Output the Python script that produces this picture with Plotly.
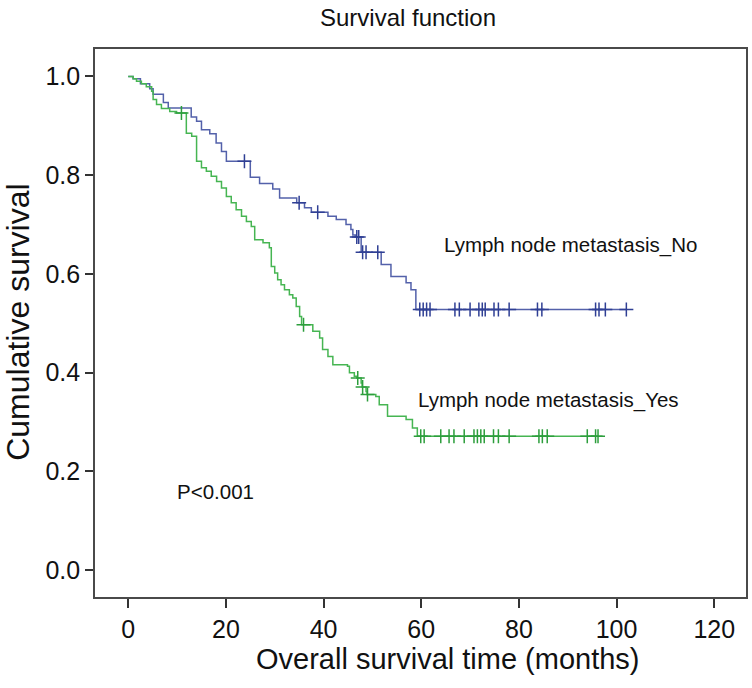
import plotly.graph_objects as go

# ---- data ----
no_event_t = [1.0, 2.5, 4.4, 5.1, 7.2, 8.2, 12.9, 14.0, 15.0, 16.7, 18.0, 19.1, 20.1,
              25.0, 26.9, 29.6, 31.0, 34.5, 36.1, 37.5, 40.9, 42.6, 44.6, 45.6, 46.0, 46.5,
              47.7, 51.8, 53.8, 56.9, 57.9, 58.9]
no_event_s = [0.995, 0.985, 0.975, 0.964, 0.947, 0.936, 0.918, 0.909, 0.892, 0.884, 0.865, 0.848, 0.828,
              0.796, 0.783, 0.772, 0.754, 0.744, 0.734, 0.725, 0.717, 0.710, 0.700, 0.690, 0.679, 0.675,
              0.644, 0.619, 0.595, 0.582, 0.568, 0.528]
no_censor_t = [23.8, 35.0, 38.8, 46.8, 47.2, 48.0, 48.7, 51.1, 59.7, 60.4, 61.1, 61.8, 66.9, 67.8,
               70.0, 71.8, 72.5, 73.1, 74.9, 75.8, 78.0, 83.8, 84.7, 95.7, 96.4, 97.7, 102.0]

yes_event_t = [1.0, 1.7, 2.7, 3.7, 4.8, 5.1, 5.8, 6.8, 8.5, 9.9, 11.9, 13.0, 14.0,
               15.0, 16.0, 17.0, 18.1, 19.1, 20.1, 21.1, 22.1, 23.2, 24.2, 25.2, 25.9, 27.6, 28.9,
               29.3, 30.0, 30.6, 31.3, 32.0, 33.0, 33.7, 34.4, 35.1, 35.5, 37.8, 39.2, 39.8, 40.9,
               41.9, 44.9, 45.3, 46.3, 46.8, 47.7, 47.9, 48.7, 48.9, 50.7, 51.4, 53.1, 56.9, 58.2, 59.2]
yes_event_s = [0.995, 0.990, 0.985, 0.979, 0.970, 0.953, 0.943, 0.935, 0.929, 0.926, 0.885, 0.879, 0.828,
               0.815, 0.808, 0.798, 0.787, 0.774, 0.757, 0.744, 0.730, 0.717, 0.706, 0.696, 0.669, 0.663, 0.653,
               0.615, 0.602, 0.588, 0.578, 0.568, 0.558, 0.551, 0.534, 0.514, 0.497, 0.484, 0.470, 0.447, 0.433,
               0.416, 0.413, 0.400, 0.393, 0.389, 0.379, 0.371, 0.362, 0.356, 0.352, 0.335, 0.312, 0.305, 0.288, 0.271]
yes_censor_t = [10.9, 35.9, 47.0, 48.0, 49.0, 59.9, 60.6, 64.0, 65.7, 66.7, 68.8, 70.8, 71.5, 72.2,
                72.9, 74.8, 75.8, 78.0, 84.1, 84.8, 85.8, 94.0, 95.7, 96.2]

x_ticks = [0, 20, 40, 60, 80, 100, 120]
y_ticks = [0.0, 0.2, 0.4, 0.6, 0.8, 1.0]


def surv_at(t, ev_t, ev_s):
    s = 1.0
    for et, es in zip(ev_t, ev_s):
        if et <= t:
            s = es
    return s


def curve(ev_t, ev_s, cens_t):
    xs = [0.0] + list(ev_t) + [max(cens_t)]
    ys = [1.0] + list(ev_s) + [ev_s[-1]]
    cy = [surv_at(t, ev_t, ev_s) for t in cens_t]
    return xs, ys, cy


FONT = "Liberation Sans, Arial, sans-serif"
fig = go.Figure()

for name, ev_t, ev_s, cens_t, lc, mc in [
    ("No", no_event_t, no_event_s, no_censor_t, "#5361aa", "#2f3f94"),
    ("Yes", yes_event_t, yes_event_s, yes_censor_t, "#46b552", "#2c9e3c"),
]:
    xs, ys, cy = curve(ev_t, ev_s, cens_t)
    fig.add_trace(go.Scatter(x=xs, y=ys, mode="lines", line=dict(shape="hv", color=lc, width=1.5),
                             showlegend=False, hoverinfo="skip"))
    fig.add_trace(go.Scatter(x=cens_t, y=cy, mode="markers",
                             marker=dict(symbol="cross-thin", size=10, line=dict(color=mc, width=1.5)),
                             showlegend=False, hoverinfo="skip"))

W, H = 752, 688
fig.update_layout(
    width=W, height=H,
    margin=dict(l=95, r=W - 747.7, t=49.3, b=H - 597.5),
    paper_bgcolor="white", plot_bgcolor="white",
    font=dict(family=FONT, color="#111"),
    title=dict(text="Survival function", x=408 / W, xref="container", xanchor="center",
               y=1 - 18 / H, yref="container", yanchor="middle",
               font=dict(size=24, family=FONT, color="#111")),
    xaxis=dict(range=[-6.8, 126.5], tickvals=x_ticks, ticktext=[str(v) for v in x_ticks],
               showgrid=False, zeroline=False, showline=True, mirror=True, linecolor="#4a4a4a", linewidth=1.6,
               ticks="outside", ticklen=9, tickwidth=1.5, tickcolor="#333",
               tickfont=dict(size=25, family=FONT, color="#111")),
    yaxis=dict(range=[-0.0543, 1.0555], tickvals=y_ticks, ticktext=[f"{v:.1f}" for v in y_ticks],
               showgrid=False, zeroline=False, showline=True, mirror=True, linecolor="#4a4a4a", linewidth=1.6,
               ticks="outside", ticklen=8, tickwidth=1.5, tickcolor="#333",
               tickfont=dict(size=25, family=FONT, color="#111")),
    annotations=[
        dict(text="Overall survival time (months)", xref="paper", yref="paper",
             x=(449 - 95) / 652.7, y=(597.5 - 660) / 548.2, xanchor="center", yanchor="middle",
             showarrow=False, font=dict(size=29, family=FONT, color="#111")),
        dict(text="Cumulative survival", xref="paper", yref="paper",
             x=(17 - 95) / 652.7, y=(597.5 - 323) / 548.2, xanchor="center", yanchor="middle",
             textangle=-90, showarrow=False, font=dict(size=32, family=FONT, color="#111")),
        dict(text="Lymph node metastasis_No", x=64.3, y=0.659, xref="x", yref="y",
             xanchor="left", yanchor="middle", showarrow=False, font=dict(size=20.5, family=FONT, color="#111")),
        dict(text="Lymph node metastasis_Yes", x=59.0, y=0.3455, xref="x", yref="y",
             xanchor="left", yanchor="middle", showarrow=False, font=dict(size=20.5, family=FONT, color="#111")),
        dict(text="P<0.001", x=9.5, y=0.159, xref="x", yref="y",
             xanchor="left", yanchor="middle", showarrow=False, font=dict(size=20.5, family=FONT, color="#111")),
    ],
)

fig.write_html("out.html", config={"displayModeBar": False},
               post_script="document.body.style.margin='0px';")
